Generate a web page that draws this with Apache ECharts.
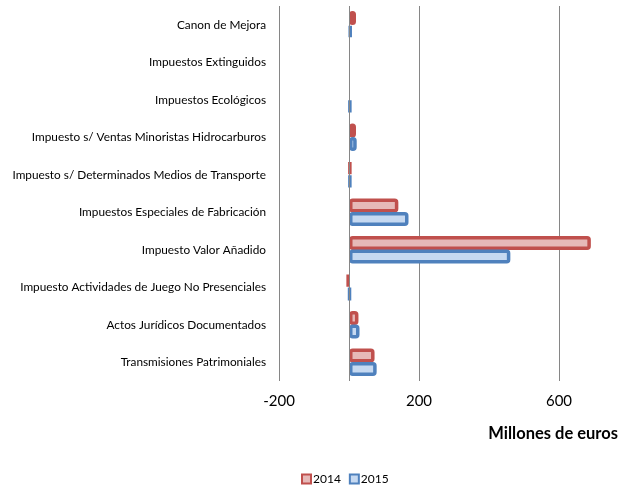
<!DOCTYPE html>
<html>
<head>
<meta charset="utf-8">
<script src="https://cdn.jsdelivr.net/npm/echarts@6/dist/echarts.min.js"></script>
<style>
  html, body { margin: 0; padding: 0; background: #fff; }
  #chart { width: 626px; height: 492px; }
</style>
</head>
<body>
<div id="chart"></div>
<script>
// categories, top to bottom
const categories = [
  'Canon de Mejora',
  'Impuestos Extinguidos',
  'Impuestos Ecológicos',
  'Impuesto s/ Ventas Minoristas Hidrocarburos',
  'Impuesto s/ Determinados Medios de Transporte',
  'Impuestos Especiales de Fabricación',
  'Impuesto Valor Añadido',
  'Impuesto Actividades de Juego No Presenciales',
  'Actos Jurídicos Documentados',
  'Transmisiones Patrimoniales'
];
// millones de euros
const values2014 = [20, null, null, 20, 5, 141, 691, -5, 27, 73];
const values2015 = [7, null, 5, 22, 5, 170, 461, 3, 30, 79];
const xTickLabels = ['-200', '200', '600'];

const font = 'Lato, "Open Sans", sans-serif';
const chart = echarts.init(document.getElementById('chart'));

chart.setOption({
  animation: false,
  textStyle: { fontFamily: font },
  title: {
    text: 'Millones de euros',
    right: 3,
    top: 420,
    textStyle: { fontFamily: font, fontSize: 16.5, fontWeight: 'bold', color: '#000' }
  },
  legend: {
    left: 296,
    top: 468,
    itemWidth: 9,
    itemHeight: 9,
    itemGap: 8,
    icon: 'rect',
    textStyle: { fontFamily: font, fontSize: 12, color: '#000', padding: [0, 0, 0, -3] },
    data: ['2014', '2015']
  },
  grid: { left: 279, top: 6, width: 420, height: 375, outerBoundsMode: 'none' },
  xAxis: {
    type: 'value',
    min: -200,
    max: 1000,
    interval: 400,
    axisLine: { show: false },
    axisTick: { show: false },
    splitLine: { show: true, lineStyle: { color: '#868686', width: 1 } },
    axisLabel: {
      fontFamily: font,
      fontSize: 15,
      color: '#000',
      margin: 13,
      formatter: v => xTickLabels.includes(String(v)) ? String(v) : ''
    }
  },
  yAxis: {
    type: 'category',
    inverse: true,
    data: categories,
    axisLine: { show: false },
    axisTick: { show: false },
    axisLabel: { fontFamily: font, fontSize: 11.8, color: '#000', margin: 13 }
  },
  series: [
    {
      name: '2014',
      type: 'bar',
      data: values2014,
      barWidth: 14,
      barGap: '-5%',
      itemStyle: { color: '#E6B9B8', borderColor: '#C0504D', borderWidth: 3.5, borderRadius: 2 },
      markLine: {
        silent: true,
        symbol: 'none',
        label: { show: false },
        lineStyle: { color: '#868686', width: 1, type: 'solid' },
        data: [{ xAxis: 0 }]
      }
    },
    {
      name: '2015',
      type: 'bar',
      data: values2015,
      barWidth: 14,
      barGap: '-5%',
      itemStyle: { color: '#C6D9F1', borderColor: '#4F81BD', borderWidth: 3.5, borderRadius: 2 }
    }
  ]
});
</script>
</body>
</html>
